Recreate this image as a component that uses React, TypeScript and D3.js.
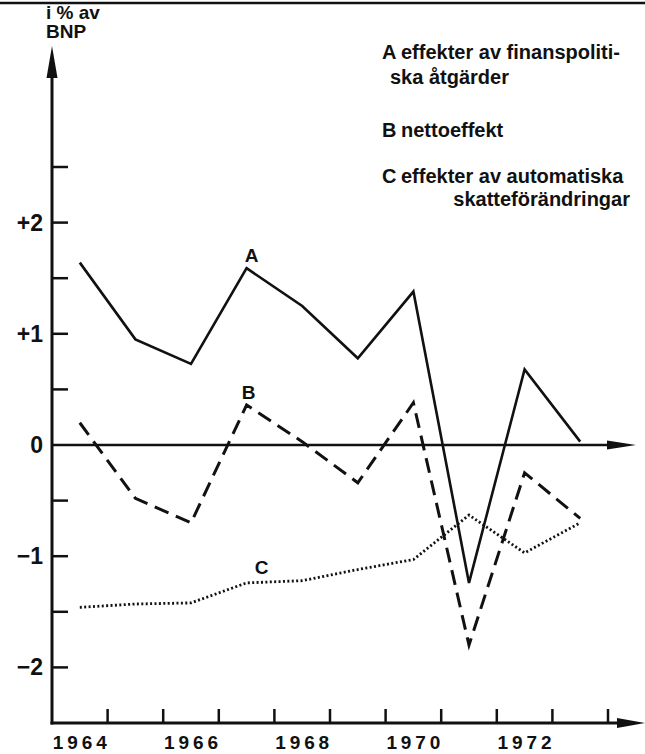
import React from "react";
import * as d3 from "d3";

// values (i % av BNP)
const years = [1964, 1965, 1966, 1967, 1968, 1969, 1970, 1971, 1972, 1973];
const seriesA = [1.64, 0.95, 0.73, 1.59, 1.25, 0.78, 1.38, -1.24, 0.68, 0.03];
const seriesB = [0.2, -0.48, -0.7, 0.36, 0.03, -0.34, 0.38, -1.8, -0.25, -0.66];
const seriesC = [-1.46, -1.43, -1.42, -1.24, -1.22, -1.12, -1.03, -0.63, -0.97, -0.7];

const yLabelTicks = [2, 1, 0, -1, -2];
const yMinorTicks = [2.5, 2, 1.5, 1, 0.5, -0.5, -1, -1.5, -2];
const yearLabels = [1964, 1966, 1968, 1970, 1972];

const legendRows = [
  { key: "A", lines: ["effekter av finanspoliti-", "ska åtgärder"] },
  { key: "B", lines: ["nettoeffekt"] },
  { key: "C", lines: ["effekter av automatiska", "skatteförändringar"] },
];

const W = 645;
const H = 754;
const FONT = "'Liberation Sans', Arial, Helvetica, sans-serif";

export default function App() {
  const x = d3.scaleBand<number>().domain(years).range([52, 608]);
  const y = d3.scaleLinear().domain([-2.5, 2.5]).range([723, 167]);
  const cx = (yr: number) => (x(yr) as number) + x.bandwidth() / 2;

  const line = d3
    .line<number>()
    .x((_, i) => cx(years[i]))
    .y((d) => y(d));

  const axisX = x.range()[0];
  const bottom = y(-2.5);
  const zeroY = y(0);
  const arrowTip = 46;

  const fmt = (v: number) => (v > 0 ? `+${v}` : v < 0 ? `\u2212${-v}` : "0");

  return (
    <svg
      width={W}
      height={H}
      viewBox={`0 0 ${W} ${H}`}
      style={{ position: "absolute", left: 0, top: 0, background: "#fff" }}
      fontFamily={FONT}
    >
      {/* top rule */}
      <line x1={0} x2={W} y1={3} y2={3} stroke="#111" strokeWidth={2.5} />

      {/* y axis title */}
      <text x={46} y={19} fontSize={19} fontWeight="bold" fill="#111">i % av</text>
      <text x={46} y={38} fontSize={19} fontWeight="bold" fill="#111">BNP</text>

      {/* y axis with arrow */}
      <line x1={axisX} x2={axisX} y1={bottom + 1.5} y2={arrowTip + 20} stroke="#111" strokeWidth={3} />
      <path d={`M${axisX},${arrowTip} L${axisX - 5.5},${arrowTip + 32} L${axisX + 5.5},${arrowTip + 32} Z`} fill="#111" />
      {yMinorTicks.map((v) => (
        <line key={v} x1={axisX} x2={axisX + 16} y1={y(v)} y2={y(v)} stroke="#111" strokeWidth={2.5} />
      ))}
      {yLabelTicks.map((v) => (
        <text key={v} x={43} y={y(v) + 8} textAnchor="end" fontSize={23} fontWeight="bold" fill="#111">
          {fmt(v)}
        </text>
      ))}

      {/* zero line with arrow */}
      <line x1={axisX} x2={612} y1={zeroY} y2={zeroY} stroke="#111" strokeWidth={2.5} />
      <path d={`M636,${zeroY} L607,${zeroY - 4.5} L607,${zeroY + 4.5} Z`} fill="#111" />

      {/* bottom axis with arrow */}
      <line x1={axisX - 1.5} x2={622} y1={bottom} y2={bottom} stroke="#111" strokeWidth={3} />
      <path d={`M645,${bottom} L617,${bottom - 5} L617,${bottom + 5} Z`} fill="#111" />
      {years.map((yr) => {
        const tx = (x(yr) as number) + x.bandwidth();
        return <line key={yr} x1={tx} x2={tx} y1={bottom} y2={bottom - 14} stroke="#111" strokeWidth={2.5} />;
      })}
      {yearLabels.map((yr) => (
        <text
          key={yr}
          x={cx(yr) - 27}
          y={749}
          fontSize={19}
          fontWeight="bold"
          fill="#111"
          textLength={54}
          lengthAdjust="spacing"
        >
          {yr}
        </text>
      ))}

      {/* series */}
      <path d={line(seriesA) || ""} fill="none" stroke="#111" strokeWidth={2.6} strokeLinejoin="miter" />
      <path d={line(seriesB) || ""} fill="none" stroke="#111" strokeWidth={3} strokeDasharray="15 8" />
      <path d={line(seriesC) || ""} fill="none" stroke="#111" strokeWidth={2.8} strokeDasharray="2 2.4" />

      {/* series labels */}
      <text x={cx(1967) + 5} y={y(seriesA[3]) - 6} textAnchor="middle" fontSize={19} fontWeight="bold" fill="#111">A</text>
      <text x={cx(1967) + 2} y={y(seriesB[3]) - 6} textAnchor="middle" fontSize={19} fontWeight="bold" fill="#111">B</text>
      <text x={cx(1967) + 15} y={y(seriesC[3]) - 9} textAnchor="middle" fontSize={19} fontWeight="bold" fill="#111">C</text>

      {/* legend */}
      <g fontSize={20} fontWeight="bold" fill="#111">
        <text x={382} y={59}>{legendRows[0].key}</text>
        <text x={401} y={59}>{legendRows[0].lines[0]}</text>
        <text x={390} y={84}>{legendRows[0].lines[1]}</text>
        <text x={382} y={137}>{legendRows[1].key}</text>
        <text x={401} y={137}>{legendRows[1].lines[0]}</text>
        <text x={382} y={183}>{legendRows[2].key}</text>
        <text x={401} y={183}>{legendRows[2].lines[0]}</text>
        <text x={630} y={206} textAnchor="end">{legendRows[2].lines[1]}</text>
      </g>
    </svg>
  );
}
